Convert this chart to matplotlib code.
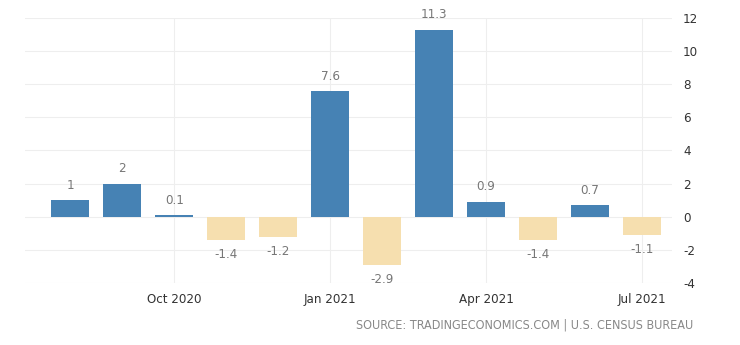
import numpy as np
import matplotlib.pyplot as plt

plt.rcParams['font.family'] = ['DejaVu Sans']
plt.rcParams['font.stretch'] = 'condensed'
plt.rcParams['axes.unicode_minus'] = False

months = ['Aug 2020', 'Sep 2020', 'Oct 2020', 'Nov 2020', 'Dec 2020', 'Jan 2021',
          'Feb 2021', 'Mar 2021', 'Apr 2021', 'May 2021', 'Jun 2021', 'Jul 2021']
values = [1, 2, 0.1, -1.4, -1.2, 7.6, -2.9, 11.3, 0.9, -1.4, 0.7, -1.1]
tick_months = ['Oct 2020', 'Jan 2021', 'Apr 2021', 'Jul 2021']
yticks = [-4, -2, 0, 2, 4, 6, 8, 10, 12]

fig = plt.figure(figsize=(7.4, 3.45), dpi=100)
ax = fig.add_axes([0.034, 0.18, 0.874, 0.768])

x = np.arange(len(values))
colors = ['#4682B4' if v >= 0 else '#F6DFAF' for v in values]
ax.bar(x, values, width=0.73, color=colors, zorder=2)

for xi, v in zip(x, values):
    label = '{:g}'.format(v)
    if v >= 0:
        ax.text(xi, v + 0.5, label, ha='center', va='bottom', fontsize=9.5, color='#777777')
    else:
        ax.text(xi, v - 0.5, label, ha='center', va='top', fontsize=9.5, color='#777777')

ax.set_xlim(-0.87, 11.58)
ax.set_ylim(-4, 12)
ax.set_xticks([months.index(m) for m in tick_months])
ax.set_xticklabels(tick_months)
ax.set_yticks(yticks)
ax.yaxis.tick_right()
ax.grid(True, color='#eeeeee', linewidth=0.8, zorder=0)
for s in ax.spines.values():
    s.set_visible(False)
ax.tick_params(axis='x', length=0, pad=7, labelsize=9.5, labelcolor='#333333')
ax.tick_params(axis='y', length=0, pad=8, labelsize=9.5, labelcolor='#333333')
for t in ax.get_yticklabels():
    t.set_horizontalalignment('left')

fig.text(0.937, 0.04, 'SOURCE: TRADINGECONOMICS.COM | U.S. CENSUS BUREAU',
         ha='right', va='bottom', fontsize=9, color='#888888')

fig.savefig('out.png', dpi=100, facecolor='white')
